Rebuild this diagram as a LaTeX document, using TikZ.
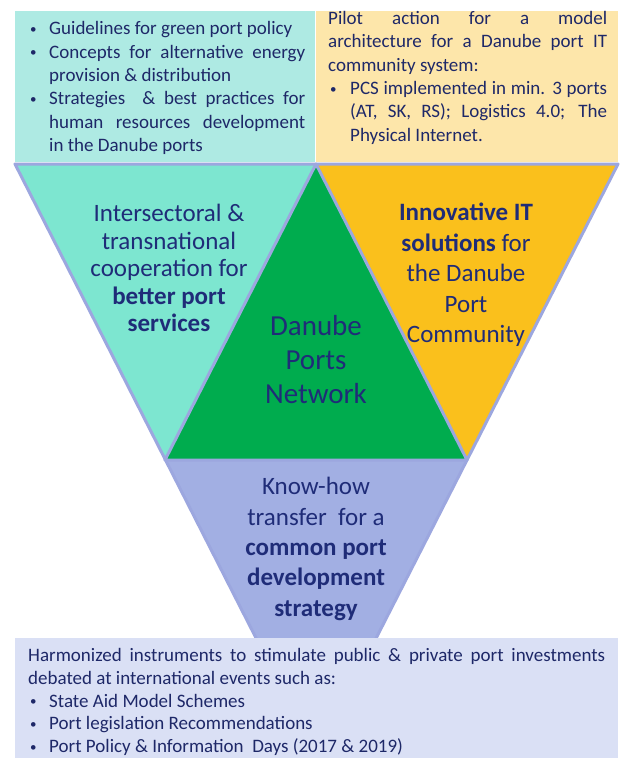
\documentclass[tikz,border=0pt]{standalone}
\usepackage{fontspec}
\setmainfont{Carlito}
\definecolor{boxteal}{HTML}{AEEAE3}
\definecolor{boxyellow}{HTML}{FDE6AA}
\definecolor{boxlav}{HTML}{DAE0F5}
\definecolor{triteal}{HTML}{7DE6D0}
\definecolor{trigreen}{HTML}{00AC4E}
\definecolor{triorange}{HTML}{FAC01C}
\definecolor{trilav}{HTML}{A2AFE3}
\definecolor{edgelav}{HTML}{9CA7DF}
\definecolor{navy}{HTML}{1F2C78}
\definecolor{darknavy}{HTML}{1E2868}
\newcommand\smallbul{\raisebox{1.5pt}{\fontsize{13}{13}\selectfont\textbullet}}
\newcommand\bulpar[1]{\par\noindent\hangindent=#1\hangafter=1\makebox[#1][l]{\hspace{2pt}\smallbul}}
\tikzset{
  boxtext/.style={inner sep=0pt, text=darknavy, align=justify, anchor=north west,
    font=\fontsize{19}{23.4}\selectfont},
  tritext/.style={inner sep=0pt, text=navy, align=center},
  edge/.style={draw=edgelav, line width=3pt, line join=round}
}
\begin{document}
\begin{tikzpicture}[x=1pt,y=-1pt]
\useasboundingbox (0,0) rectangle (622,758);
\fill[white] (0,0) rectangle (622,758);
% key points
\coordinate (TL) at (15,164);
\coordinate (TM) at (316,164);
\coordinate (TR) at (618,164);
\coordinate (ML) at (165,460);
\coordinate (MR) at (467,460);
\coordinate (AP) at (316,756);
% top boxes
\fill[boxteal] (15,11) rectangle (315,162);
\fill[boxyellow] (316,11) rectangle (618,162);
% triangles
\fill[triteal] (TL) -- (TM) -- (ML) -- cycle;
\fill[trigreen] (TM) -- (ML) -- (MR) -- cycle;
\fill[triorange] (TM) -- (TR) -- (MR) -- cycle;
\fill[trilav] (ML) -- (MR) -- (AP) -- cycle;
\draw[edge] (TL) -- (TR) -- (AP) -- cycle;
\draw[edge] (TM) -- (ML) -- (MR) -- cycle;
% bottom box
\fill[boxlav] (15,638) rectangle (618,758);
% texts
\node[boxtext, text width=277pt] (lt) at (28,11) {%
\bulpar{21pt}Guidelines for green port policy
\bulpar{21pt}Concepts for alternative energy\linebreak provision \& distribution
\bulpar{21pt}Strategies\ \ \& best practices for\linebreak human resources development\linebreak in the Danube ports\par};
\node[boxtext, text width=279pt] (rt) at (328,11) {%
\noindent Pilot action for a model\linebreak architecture for a Danube port IT\linebreak community system:
\bulpar{22pt}PCS implemented in min. 3 ports\linebreak (AT, SK, RS); Logistics 4.0; The\linebreak Physical Internet.\par};
\node[boxtext, text width=577pt, font=\fontsize{19}{22.8}\selectfont] (bt) at (28,648) {%
\noindent Harmonized instruments to stimulate public \& private port investments\linebreak debated at international events such as:
\bulpar{21pt}State Aid Model Schemes
\bulpar{21pt}Port legislation Recommendations
\bulpar{21pt}Port Policy \& Information\ \ Days (2017 \& 2019)\par};
\node[tritext, font=\fontsize{25}{27.5}\selectfont] (lefttri) at (169,268)
  {Intersectoral \&\\transnational\\cooperation for\\\textbf{better port}\\\textbf{services}};
\node[tritext, font=\fontsize{29}{34}\selectfont] (midtri) at (316,360)
  {Danube\\Ports\\Network};
\node[tritext, font=\fontsize{25}{30.5}\selectfont] (righttri) at (466,275)
  {\textbf{Innovative IT}\\\textbf{solutions} for\\the Danube\\Port\\Community};
\node[tritext, font=\fontsize{25}{30.3}\selectfont] (bottri) at (316,549)
  {Know-how\\transfer\ \ for a\\\textbf{common port}\\\textbf{development}\\\textbf{strategy}};
\end{tikzpicture}
\end{document}
